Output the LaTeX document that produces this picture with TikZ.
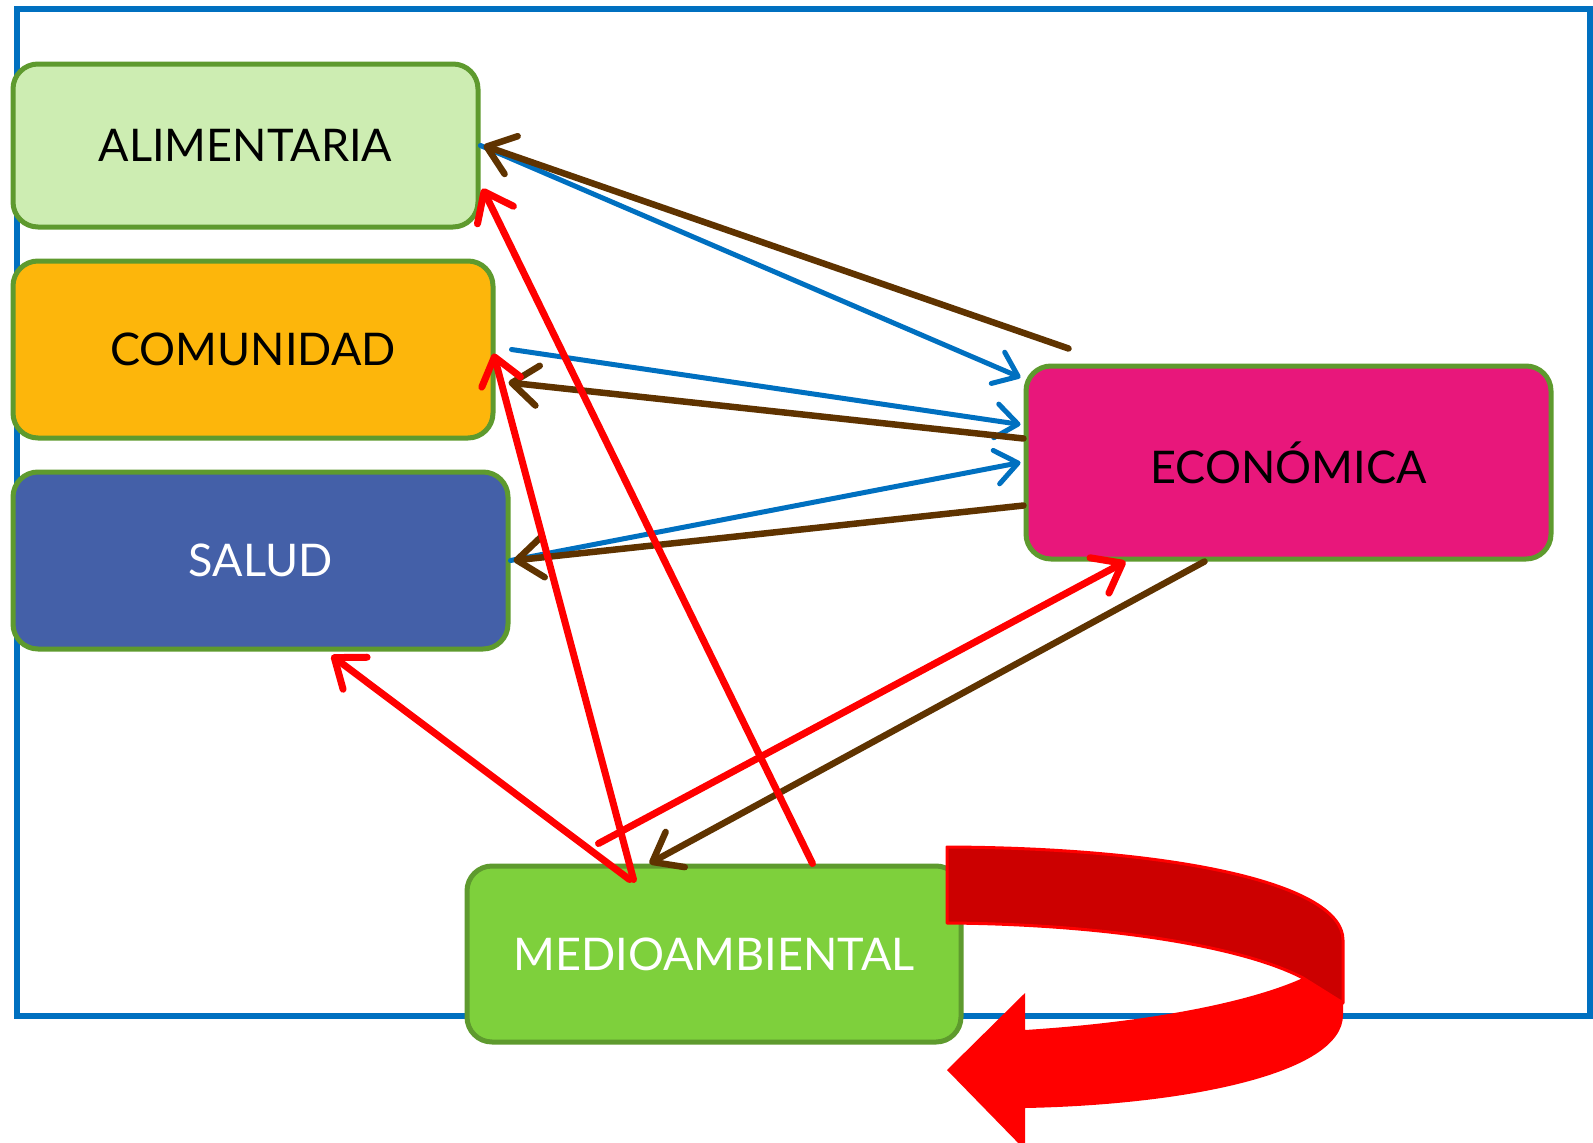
\documentclass[tikz,border=0pt]{standalone}
\usepackage{fontspec}
\setmainfont{Lato}
\usetikzlibrary{arrows.meta,calc}
\definecolor{frameblue}{HTML}{0070C0}
\definecolor{bordergreen}{HTML}{5E9A2E}
\definecolor{alimfill}{HTML}{CDEDB2}
\definecolor{comufill}{HTML}{FDB60B}
\definecolor{saludfill}{HTML}{4460A8}
\definecolor{ecofill}{HTML}{E8177B}
\definecolor{mediofill}{HTML}{7ED03C}
\definecolor{brownline}{HTML}{5F3300}
\definecolor{redline}{HTML}{FF0000}
\definecolor{darkred}{HTML}{CC0000}
\tikzset{
  box/.style={draw=bordergreen, line width=5pt, rounded corners=25pt, inner sep=0pt,
    font=\fontsize{45}{54}\selectfont},
  bluearrow/.style={draw=frameblue, line width=5pt, line cap=round,
    -{Straight Barb[length=22pt,width=34pt,round]}},
  brownarrow/.style={draw=brownline, line width=6.5pt, line cap=round,
    -{Straight Barb[length=26pt,width=40pt,round]}},
  redarrow/.style={draw=redline, line width=7pt, line cap=round,
    -{Straight Barb[length=26pt,width=40pt,round]}},
}
\begin{document}
\begin{tikzpicture}[x=1pt,y=-1pt]
\useasboundingbox (0,0) rectangle (1593,1143);
\fill[white] (0,0) rectangle (1593,1143);
% frame
\draw[frameblue, line width=5.5pt] (17,9) rectangle (1590,1016);
% boxes
\node[box, fill=alimfill, minimum width=465pt, minimum height=163pt] (alim) at (245.5,145.5) {ALIMENTARIA};
\node[box, fill=comufill, minimum width=480pt, minimum height=177pt] (comu) at (253,349.5) {COMUNIDAD};
\node[box, fill=saludfill, text=white, minimum width=495pt, minimum height=177pt] (salud) at (260.5,560.5) {SALUD};
\node[box, fill=ecofill, minimum width=525pt, minimum height=193pt] (eco) at (1288.5,462.5) {ECONÓMICA};
\node[box, fill=mediofill, text=white, minimum width=494pt, minimum height=176pt] (medio) at (714,954) {MEDIOAMBIENTAL};
% free ends
\coordinate (b1s) at ($(eco.north west)+(45,-15)$);
\coordinate (r4s) at ($(medio.north west)+(134,-20)$);
% blue
\draw[bluearrow] (alim.east) -- ($(eco.west)+(-3,-85)$);
\draw[bluearrow] ($(comu.east)+(16,0)$) -- ($(eco.west)+(-3,-38)$);
\draw[bluearrow] (salud.east) -- ($(eco.west)+(-3,0)$);
% brown
\draw[brownarrow] (b1s) -- ($(alim.east)+(3,0)$);
\draw[brownarrow] ($(eco.west)+(0,-24)$) -- ($(comu.east)+(13,33)$);
\draw[brownarrow] ($(eco.west)+(0,43)$) -- ($(salud.east)+(3,0)$);
\draw[brownarrow] ($(eco.south west)+(181,0)$) -- ($(medio.north west)+(185,0)$);
% red
\draw[redarrow] ($(medio.north west)+(348,0)$) -- ($(alim.east)+(2,43)$);
\draw[redarrow] ($(medio.north west)+(169,16)$) -- ($(comu.east)+(-2,4)$);
\draw[redarrow] ($(medio.north west)+(165,16)$) -- ($(salud.south west)+(321,4)$);
\draw[redarrow] (r4s) -- ($(eco.south west)+(102,0)$);
% big curved arrow
\fill[redline] (1025,1030) .. controls (1150,1022) and (1250,1002) .. (1303,978)
  -- (1343,960) -- (1343,1015) .. controls (1343,1075) and (1180,1105) .. (1025,1108)
  -- (1025,1150) -- (947,1070) -- (1025,993) -- cycle;
\filldraw[fill=darkred, draw=redline, line width=3pt, line join=round]
  (947,847) .. controls (1180,848) and (1343,885) .. (1343,940) -- (1343,1003)
  -- (1303,978) .. controls (1240,945) and (1100,924) .. (947,923) -- cycle;
\end{tikzpicture}
\end{document}
